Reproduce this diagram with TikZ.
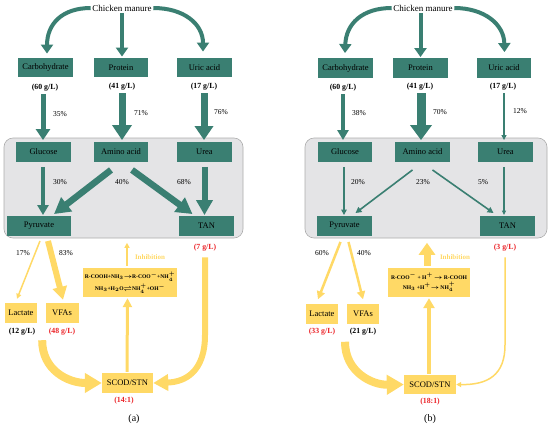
\documentclass[tikz,border=0pt]{standalone}
\usepackage{fontspec}
\setmainfont{Liberation Serif}
\usetikzlibrary{arrows.meta,calc}
\definecolor{tealc}{RGB}{58,127,114}
\definecolor{yelc}{RGB}{255,217,102}
\definecolor{grayf}{RGB}{228,228,230}
\definecolor{grayd}{RGB}{172,172,172}
\definecolor{redc}{RGB}{235,35,40}
\tikzset{
  tbox/.style={fill=tealc,draw=none,minimum height=19.5pt,inner sep=0pt,font=\fontsize{8.5}{10}\selectfont},
  ybox/.style={fill=yelc,draw=none,inner sep=0pt,font=\fontsize{8.5}{10}\selectfont},
  conc/.style={font=\bfseries\fontsize{7.8}{9}\selectfont,inner sep=0pt},
  rconc/.style={conc,text=redc},
  pct/.style={font=\fontsize{7.5}{9}\selectfont,inner sep=0pt},
  title/.style={font=\fontsize{9}{10}\selectfont,inner sep=1.5pt},
  inhib/.style={font=\bfseries\fontsize{7}{8}\selectfont,text=yelc,inner sep=0pt},
  react/.style={ybox,font=\bfseries\boldmath\fontsize{5.6}{8}\selectfont,align=center},
  grayb/.style={fill=grayf,draw=grayd,line width=0.6pt,rounded corners=9pt},
  ta/.style n args={3}{draw=tealc,line width=#1,-{Triangle[width=#2,length=#3]}},
  ya/.style n args={3}{draw=yelc,line width=#1,-{Triangle[width=#2,length=#3]}},
  capt/.style={font=\fontsize{10}{12}\selectfont,inner sep=0pt}
}
\begin{document}
\begin{tikzpicture}[x=1pt,y=-1pt]
\useasboundingbox (0,0) rectangle (550,429);
% ================= panel (a) =================
\node[grayb,minimum width=239pt,minimum height=100pt] (gray_a) at (123.5,188) {};
\node[title] (cm_a) at (122,8) {Chicken manure};
\node[tbox,minimum width=55pt] (carb_a) at (45.5,67.5) {Carbohydrate};
\node[tbox,minimum width=54pt] (prot_a) at (121,67.5) {Protein};
\node[tbox,minimum width=55pt] (uric_a) at (204.5,67.5) {Uric acid};
\node[conc] (c1a) at (45,87.5) {(60 g/L)};
\node[conc] (c2a) at (122,86.5) {(41 g/L)};
\node[conc] (c3a) at (204,86.5) {(17 g/L)};
\node[pct] (p1a) at (60,114) {35\%};
\node[pct] (p2a) at (141,113) {71\%};
\node[pct] (p3a) at (221,112) {76\%};
\node[tbox,minimum width=55pt] (gluc_a) at (43.5,152) {Glucose};
\node[tbox,minimum width=54pt] (amino_a) at (121,152) {Amino acid};
\node[tbox,minimum width=55pt] (urea_a) at (204.5,152) {Urea};
\node[tbox,minimum width=64pt] (pyr_a) at (39,226) {Pyruvate};
\node[tbox,minimum width=55pt] (tan_a) at (206.5,226) {TAN};
\node[pct] (p4a) at (60,182.5) {30\%};
\node[pct] (p5a) at (122,182.5) {40\%};
\node[pct] (p6a) at (184,182.5) {68\%};
\node[rconc] (c4a) at (205,247.5) {(7 g/L)};
\node[pct] (p7a) at (23,253) {17\%};
\node[pct] (p8a) at (66,253) {83\%};
\node[inhib] (inh_a) at (150,257) {Inhibition};
\node[react,minimum width=94pt,minimum height=29pt] (react_a) at (130,282.5)
  {R-COOH+NH$_3$$\rightarrow$R-COO$^-$+NH$_4^+$\\[1.5pt] NH$_3$+H$_2$O$\rightleftharpoons$NH$_4^+$+OH$^-$};
\node[ybox,minimum width=32pt,minimum height=20pt] (lact_a) at (21,313) {Lactate};
\node[ybox,minimum width=33pt,minimum height=20pt] (vfa_a) at (62,313) {VFAs};
\node[conc] (c5a) at (22,331.5) {(12 g/L)};
\node[rconc] (c6a) at (62,331.5) {(48 g/L)};
\node[ybox,minimum width=51pt,minimum height=20pt] (scod_a) at (127.5,383) {SCOD/STN};
\node[rconc] (c7a) at (124,400.5) {(14:1)};
\node[capt] (cap_a) at (134,419) {(a)};
% arrows (a)
\draw[ta={4pt}{12pt}{9pt}] (cm_a.west) .. controls (62,8) and (47,24) .. ($(carb_a.north)+(1.5,-4)$);
\draw[ta={4pt}{12pt}{9pt}] (cm_a.east) .. controls (184,8) and (203,24) .. ($(uric_a.north)+(-1.5,-6)$);
\draw[ta={4pt}{12pt}{9pt}] (cm_a.south) -- ($(prot_a.north)+(1,-1)$);
\draw[ta={5pt}{14pt}{11pt}] ($(c1a.south)+(-2,3)$) -- ($(gluc_a.north)+(-0.5,-2)$);
\draw[ta={7pt}{19pt}{15pt}] ($(c2a.south)+(0,3)$) -- ($(amino_a.north)+(1,-2)$);
\draw[ta={7pt}{18pt}{14pt}] ($(c3a.south)+(0,3)$) -- ($(urea_a.north)+(-0.5,-2)$);
\draw[ta={4.5pt}{11pt}{10pt}] ($(gluc_a.south)+(-0.5,5)$) -- ($(pyr_a.north)+(4,-1)$);
\draw[ta={6.5pt}{17pt}{16pt}] ($(amino_a.south)+(-10,8)$) -- ($(pyr_a.north)+(15,-2)$);
\draw[ta={6.5pt}{17pt}{16pt}] ($(amino_a.south)+(11,8)$) -- ($(tan_a.north)+(-14,-2)$);
\draw[ta={6pt}{16pt}{15pt}] ($(urea_a.south)+(0,5)$) -- ($(tan_a.north)+(-2,-1)$);
\draw[ya={1.5pt}{5pt}{5pt}] ($(pyr_a.south)+(1,5)$) -- ($(lact_a.north)+(-4,-4)$);
\draw[ya={6pt}{14pt}{13pt}] ($(pyr_a.south)+(9,5)$) -- ($(vfa_a.north)+(1,-3)$);
\draw[ya={1.5pt}{5pt}{5pt}] ($(react_a.north)+(-3,-2)$) -- ($(react_a.north)+(-3,-25)$);
\draw[ya={3pt}{9pt}{9pt}] ($(scod_a.north)+(-0.5,-1)$) -- ($(react_a.south)+(-2.5,1)$);
\draw[ya={8pt}{19pt}{17pt}] ($(lact_a.south east)+(5,17)$) .. controls (42,370) and (68,383) .. (scod_a.west);
\draw[ya={6pt}{16pt}{15pt}] ($(c4a.south)+(0,6)$) -- (205,335) .. controls (205,372) and (185,382) .. (scod_a.east);
% ================= panel (b) =================
\node[grayb,minimum width=242pt,minimum height=100pt] (gray_b) at (426,188) {};
\node[title] (cm_b) at (423,8) {Chicken manure};
\node[tbox,minimum width=55pt] (carb_b) at (345.5,68) {Carbohydrate};
\node[tbox,minimum width=55pt] (prot_b) at (420.5,68) {Protein};
\node[tbox,minimum width=54pt] (uric_b) at (504,68) {Uric acid};
\node[conc] (c1b) at (343,87.5) {(60 g/L)};
\node[conc] (c2b) at (420,86.5) {(41 g/L)};
\node[conc] (c3b) at (503,86.5) {(17 g/L)};
\node[pct] (p1b) at (359,113) {38\%};
\node[pct] (p2b) at (440,112) {70\%};
\node[pct] (p3b) at (520,111) {12\%};
\node[tbox,minimum width=54pt] (gluc_b) at (345,152) {Glucose};
\node[tbox,minimum width=55pt] (amino_b) at (422.5,152) {Amino acid};
\node[tbox,minimum width=55pt] (urea_b) at (505.5,152) {Urea};
\node[tbox,minimum width=55pt] (pyr_b) at (344.5,226) {Pyruvate};
\node[tbox,minimum width=55pt] (tan_b) at (507.5,226) {TAN};
\node[pct] (p4b) at (358,182.5) {20\%};
\node[pct] (p5b) at (423,182.5) {23\%};
\node[pct] (p6b) at (483,182.5) {5\%};
\node[rconc] (c4b) at (505,247.5) {(3 g/L)};
\node[pct] (p7b) at (322,253) {60\%};
\node[pct] (p8b) at (364,253) {40\%};
\node[inhib] (inh_b) at (455,257) {Inhibition};
\node[react,minimum width=82pt,minimum height=29pt] (react_b) at (429,282.5)
  {R-COO$^-$ + H$^+$ $\rightarrow$ R-COOH\\[1.5pt] NH$_3$ +H$^+$$\rightarrow$ NH$_4^+$};
\node[ybox,minimum width=32pt,minimum height=20pt] (lact_b) at (322,313.5) {Lactate};
\node[ybox,minimum width=32pt,minimum height=20pt] (vfa_b) at (363,313.5) {VFAs};
\node[rconc] (c5b) at (322,332) {(33 g/L)};
\node[conc] (c6b) at (363,332) {(21 g/L)};
\node[ybox,minimum width=52pt,minimum height=19pt] (scod_b) at (430,384.5) {SCOD/STN};
\node[rconc] (c7b) at (430,401.5) {(18:1)};
\node[capt] (cap_b) at (430,419) {(b)};
% arrows (b)
\draw[ta={4pt}{12pt}{9pt}] (cm_b.west) .. controls (362,8) and (346,24) .. ($(carb_b.north)+(-0.5,-5)$);
\draw[ta={4pt}{12pt}{9pt}] (cm_b.east) .. controls (484,8) and (504,24) .. ($(uric_b.north)+(0.5,-6)$);
\draw[ta={4pt}{12pt}{9pt}] (prot_b.north |- cm_b.south) -- ($(prot_b.north)+(0,-1)$);
\draw[ta={4pt}{11pt}{10pt}] ($(c1b.south)+(0,3)$) -- ($(gluc_b.north)+(-2,-2)$);
\draw[ta={9pt}{21pt}{15pt}] ($(c2b.south)+(1,3)$) -- ($(amino_b.north)+(-1.5,-2)$);
\draw[ta={1.5pt}{5pt}{5pt}] ($(c3b.south)+(1,3)$) -- ($(urea_b.north)+(-1.5,-2)$);
\draw[ta={1.6pt}{5.5pt}{5.5pt}] ($(gluc_b.south)+(-1,5)$) -- ($(pyr_b.north)+(-0.5,-1)$);
\draw[ta={1.6pt}{6pt}{6pt}] ($(amino_b.south)+(-10,8)$) -- ($(pyr_b.north)+(11,-3)$);
\draw[ta={1.6pt}{6pt}{6pt}] ($(amino_b.south)+(10,8)$) -- ($(tan_b.north)+(-14,-3)$);
\draw[ta={1.2pt}{4pt}{4.5pt}] ($(urea_b.south)+(-1.5,5)$) -- ($(tan_b.north)+(-3.5,-1)$);
\draw[ya={2.5pt}{8pt}{8pt}] ($(pyr_b.south)+(-4,6)$) -- ($(lact_b.north)+(-4,-4)$);
\draw[ya={2.5pt}{8pt}{8pt}] ($(pyr_b.south)+(4,6)$) -- ($(vfa_b.north)+(0,-4)$);
\draw[ya={7pt}{16pt}{12pt}] ($(react_b.north)+(-2,-2)$) -- ($(react_b.north)+(-2,-25)$);
\draw[ya={4pt}{11pt}{10pt}] ($(scod_b.north)+(-1,-1)$) -- ($(react_b.south)+(0,1)$);
\draw[ya={8pt}{19pt}{17pt}] ($(c6b.south)+(-18,6)$) .. controls (345,372) and (372,385) .. (scod_b.west);
\draw[ya={1.5pt}{5pt}{5pt}] ($(c4b.south)+(0,6)$) -- (505,345) .. controls (505,375) and (488,385) .. (scod_b.east);
\end{tikzpicture}
\end{document}
